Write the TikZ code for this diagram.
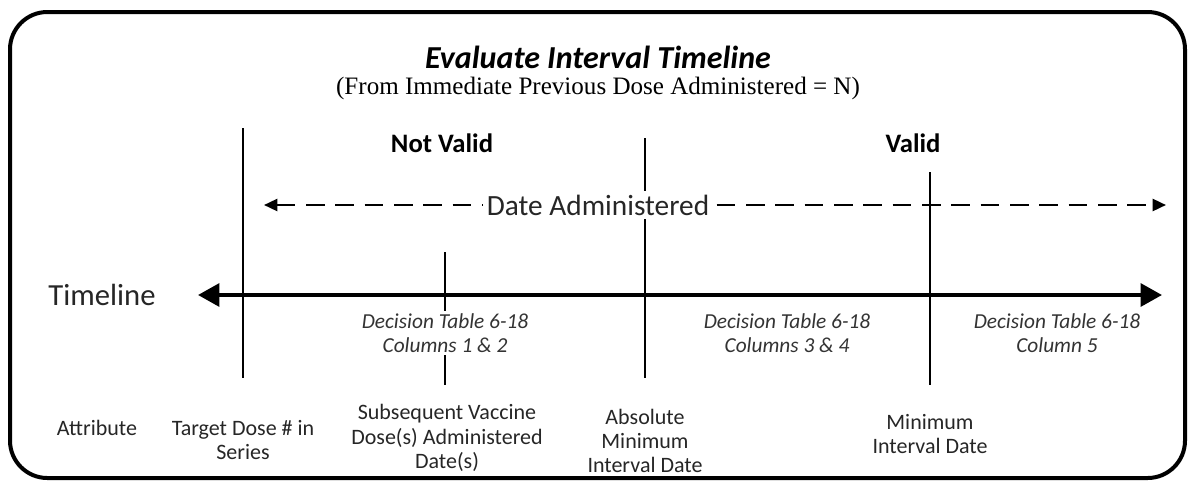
\documentclass[tikz,border=0pt]{standalone}
\usepackage{fontspec}
\setmainfont{Carlito}
\newfontfamily\timesfont{Liberation Serif}
\usetikzlibrary{arrows.meta}
\begin{document}
\begin{tikzpicture}[x=0.75pt,y=-0.75pt,
  frame/.style={line width=3pt,rounded corners=28pt},
  vline/.style={line width=1.4pt},
  tline/.style={line width=3pt,{Triangle[length=16pt,width=17pt]}-{Triangle[length=16pt,width=17pt]}},
  dline/.style={line width=1.8pt,dash pattern=on 14pt off 8pt,{Triangle[length=10pt,width=9pt]}-{Triangle[length=10pt,width=9pt]}},
  dectext/.style={font=\fontsize{16}{17.5}\selectfont\itshape,text=black!80,align=center,fill=white,inner sep=2pt},
  attr/.style={font=\fontsize{16.5}{18.3}\selectfont,text=black!85,align=center,inner sep=0pt},
  head/.style={font=\fontsize{20}{22}\selectfont\bfseries,inner sep=0pt}]
\useasboundingbox (0,0) rectangle (1190,483);
\draw[frame] (10,12) rectangle (1185,478);
% titles
\node[font=\fontsize{24}{28}\selectfont\bfseries\itshape,inner sep=0pt] (title) at (598,57) {Evaluate Interval Timeline};
\node[font=\timesfont\fontsize{18.8}{22}\selectfont,inner sep=0pt] (sub) at (598,88) {(From Immediate Previous Dose Administered = N)};
\node[head] (nv) at (442,143) {Not Valid};
\node[head] (v) at (913,143) {Valid};
% coordinates
\coordinate (l1t) at (243,128); \coordinate (l1b) at (243,378);
\coordinate (l2t) at (445,252); \coordinate (l2b) at (445,385);
\coordinate (l3t) at (645,138); \coordinate (l3b) at (645,378);
\coordinate (l4t) at (930,172); \coordinate (l4b) at (930,385);
\coordinate (tl) at (198,295); \coordinate (tr) at (1162,295);
\coordinate (dl) at (264,205); \coordinate (dr) at (1166,205);
% lines
\draw[vline] (l1t) -- (l1b);
\draw[vline] (l2t) -- (l2b);
\draw[vline] (l3t) -- (l3b);
\draw[vline] (l4t) -- (l4b);
\draw[tline] (tl) -- (tr);
\draw[dline] (dl) -- (dr);
\node[font=\fontsize{22}{24}\selectfont,fill=white,inner sep=3pt,text=black!85] (da) at (598,205) {Date Administered};
\node[font=\fontsize{23}{26}\selectfont,text=black!85,inner sep=0pt] (tlab) at (102,295) {Timeline};
% decision tables
\node[dectext] (d1) at (445,333) {Decision Table 6-18\\Columns 1 \& 2};
\node[dectext] (d2) at (787,333) {Decision Table 6-18\\Columns 3 \& 4};
\node[dectext] (d3) at (1057,333) {Decision Table 6-18\\Column 5};
% attributes
\node[attr] (a0) at (97,428) {Attribute};
\node[attr] (a1) at (243,440) {Target Dose \# in\\Series};
\node[attr] (a2) at (447,438) {Subsequent Vaccine\\Dose(s) Administered\\Date(s)};
\node[attr] (a3) at (645,441) {Absolute\\Minimum\\Interval Date};
\node[attr] (a4) at (930,434) {Minimum\\Interval Date};
\end{tikzpicture}
\end{document}
